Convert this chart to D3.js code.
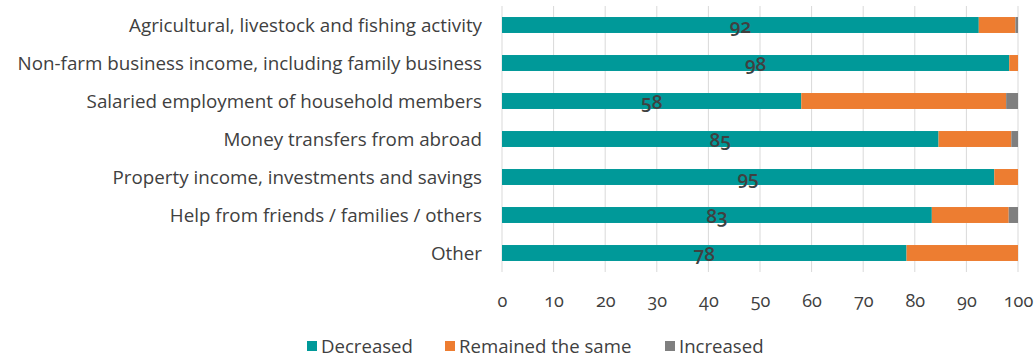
<!DOCTYPE html>
<html>
<head>
<meta charset="utf-8">
<script src="https://cdn.jsdelivr.net/npm/d3@7"></script>
<style>
  html, body { margin: 0; padding: 0; background: #fff; }
  svg text { font-family: "Open Sans", "Noto Sans", sans-serif; }
</style>
</head>
<body>
<svg id="chart" width="1036" height="358"></svg>
<script>
// Income sources and how each changed (share of households, %)
const categories = [
  "Agricultural, livestock and fishing activity",
  "Non-farm business income, including family business",
  "Salaried employment of household members",
  "Money transfers from abroad",
  "Property income, investments and savings",
  "Help from friends / families / others",
  "Other"
];
const decreased = [92.4, 98.3, 58.0, 84.6, 95.4, 83.3, 78.4];
const remainedSame = [7.1, 1.7, 39.7, 14.1, 4.6, 14.9, 21.6];
const increased = [0.5, 0.0, 2.3, 1.3, 0.0, 1.8, 0.0];
const seriesNames = ["Decreased", "Remained the same", "Increased"];
const seriesColors = ["#009999", "#ED7D31", "#7F7F7F"];
const xTicks = [0, 10, 20, 30, 40, 50, 60, 70, 80, 90, 100];

const rows = categories.map((c, i) => ({
  category: c,
  "Decreased": decreased[i],
  "Remained the same": remainedSame[i],
  "Increased": increased[i]
}));

const svg = d3.select("#chart");
const margin = { top: 6, right: 18, bottom: 86, left: 502 };
const width = 1036 - margin.left - margin.right;
const height = 358 - margin.top - margin.bottom;

const x = d3.scaleLinear().domain([0, 100]).range([0, width]);
const y = d3.scaleBand().domain(categories).range([0, height]).paddingInner(0.58).paddingOuter(0.29);
const color = d3.scaleOrdinal().domain(seriesNames).range(seriesColors);

const g = svg.append("g").attr("transform", `translate(${margin.left},${margin.top})`);

// vertical gridlines
g.append("g")
  .selectAll("line")
  .data(xTicks)
  .join("line")
  .attr("x1", d => x(d)).attr("x2", d => x(d))
  .attr("y1", 0).attr("y2", height)
  .attr("stroke", "#d9d9d9")
  .attr("stroke-width", 1);

// stacked bars
const stacked = d3.stack().keys(seriesNames)(rows);
g.append("g")
  .selectAll("g")
  .data(stacked)
  .join("g")
  .attr("fill", d => color(d.key))
  .selectAll("rect")
  .data(d => d)
  .join("rect")
  .attr("x", d => x(d[0]))
  .attr("y", d => y(d.data.category))
  .attr("width", d => x(d[1]) - x(d[0]))
  .attr("height", y.bandwidth());

// value labels on the "Decreased" segment
g.append("g")
  .selectAll("text")
  .data(stacked[0])
  .join("text")
  .attr("x", d => x((d[0] + d[1]) / 2))
  .attr("y", d => y(d.data.category) + y.bandwidth() / 2 + 8)
  .attr("text-anchor", "middle")
  .attr("fill", "#404040")
  .style("font-size", "19px")
  .style("font-weight", "600")
  .style("font-variant-numeric", "oldstyle-nums")
  .text(d => d3.format(".0f")(d[1] - d[0]));

// category axis labels
g.append("g")
  .selectAll("text")
  .data(categories)
  .join("text")
  .attr("x", -20)
  .attr("y", d => y(d) + y.bandwidth() / 2)
  .attr("dy", "0.35em")
  .attr("text-anchor", "end")
  .attr("fill", "#404040")
  .style("font-size", "18.8px")
  .text(d => d);

// value axis
const xAxis = d3.axisBottom(x).tickValues(xTicks).tickSize(0).tickPadding(22);
g.append("g")
  .attr("transform", `translate(0,${height})`)
  .call(xAxis)
  .call(a => a.select(".domain").remove())
  .call(a => a.selectAll("text")
    .attr("fill", "#404040")
    .style("font-size", "18px")
    .style("font-variant-numeric", "oldstyle-nums")
    .style("font-family", "\"Open Sans\", sans-serif"));

// legend
const legendItems = [
  { name: seriesNames[0], x: 307 },
  { name: seriesNames[1], x: 445 },
  { name: seriesNames[2], x: 665 }
];
const legend = svg.append("g").attr("transform", "translate(0,346)");
const li = legend.selectAll("g").data(legendItems).join("g")
  .attr("transform", d => `translate(${d.x},0)`);
li.append("rect")
  .attr("x", 0).attr("y", -5)
  .attr("width", 10).attr("height", 10)
  .attr("fill", d => color(d.name));
li.append("text")
  .attr("x", 14).attr("y", 0).attr("dy", "0.35em")
  .attr("fill", "#404040")
  .style("font-size", "18.6px")
  .text(d => d.name);
</script>
</body>
</html>
